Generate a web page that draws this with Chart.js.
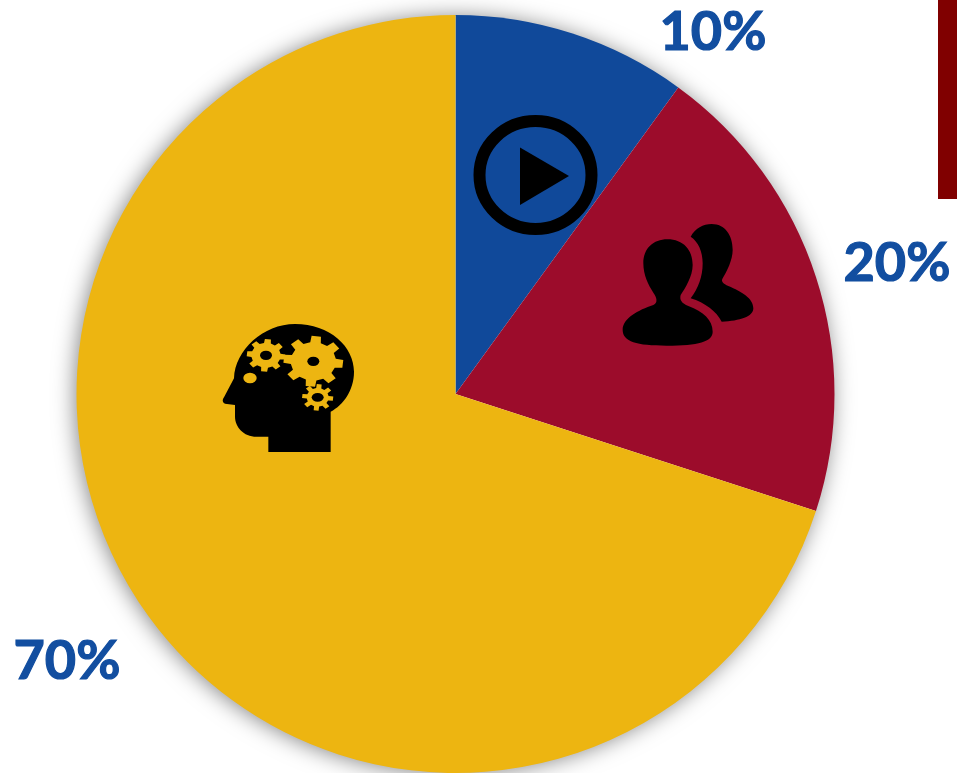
<!DOCTYPE html>
<html>
<head>
<meta charset="utf-8">
<title>pie</title>
<script src="https://cdn.jsdelivr.net/npm/chart.js@4/dist/chart.umd.js"></script>
<style>
html, body { margin: 0; padding: 0; background: #fff; overflow: hidden; }
#box { position: relative; width: 957px; height: 773px; }
</style>
</head>
<body>
<div id="box"><canvas id="myChart" width="957" height="773"></canvas></div>
<script>
const categories = ['Watching', 'Together', 'Thinking'];
const shares = [10, 20, 70];
const sliceColors = ['#10499a', '#9c0c2b', '#edb511'];
const labelSpots = [[713, 50], [897, 281], [67, 679]];
const yellow = sliceColors[2];

// shadow under the whole disc, so no slice throws it on its neighbour
const discShadow = {
	id: 'discShadow',
	beforeDatasetsDraw(chart) {
		const arc = chart.getDatasetMeta(0).data[0];
		const ctx = chart.ctx;
		ctx.save();
		ctx.shadowColor = 'rgba(0,0,0,0.5)';
		ctx.shadowBlur = 22;
		ctx.shadowOffsetX = -2;
		ctx.shadowOffsetY = 1;
		ctx.fillStyle = '#fff';
		ctx.beginPath();
		ctx.arc(arc.x, arc.y, arc.outerRadius - 1, 0, Math.PI * 2);
		ctx.fill();
		ctx.restore();
	}
};

function gear(ctx, cx, cy, outer, root, squash, holeX, holeY) {
	const teeth = 8;
	const step = Math.PI * 2 / teeth;
	ctx.fillStyle = yellow;
	ctx.beginPath();
	for (let i = 0; i < teeth; i++) {
		const a = i * step + 0.1;
		const pts = [[a - step * 0.3, root], [a - step * 0.2, outer], [a + step * 0.2, outer], [a + step * 0.3, root]];
		pts.forEach(p => ctx.lineTo(cx + Math.cos(p[0]) * p[1], cy + Math.sin(p[0]) * p[1] * squash));
	}
	ctx.closePath();
	ctx.fill();
	ctx.fillStyle = '#000';
	ctx.beginPath();
	ctx.ellipse(cx, cy, holeX, holeY, 0, 0, Math.PI * 2);
	ctx.fill();
}

function drawPlay(ctx) {
	ctx.save();
	ctx.strokeStyle = '#000';
	ctx.lineWidth = 12;
	ctx.beginPath();
	ctx.ellipse(535.5, 175, 56, 54, 0, 0, Math.PI * 2);
	ctx.stroke();
	ctx.fillStyle = '#000';
	ctx.beginPath();
	ctx.moveTo(520, 147.5);
	ctx.lineTo(569, 176);
	ctx.lineTo(520, 205);
	ctx.closePath();
	ctx.fill();
	ctx.restore();
}

function drawPeople(ctx) {
	ctx.save();
	ctx.translate(610, 210);
	ctx.scale(1 / 3, 1 / 3);
	ctx.fillStyle = '#000';
	ctx.fill(new Path2D('M172 88C220 88 248 120 248 165C248 200 225 235 212 255C208 270 215 280 235 288C280 305 308 330 308 365C308 395 265 407 170 407C80 407 38 395 38 360C38 325 85 300 130 285C145 278 140 262 130 248C115 225 100 195 100 160C100 115 130 88 172 88Z'));
	ctx.fill(new Path2D('M242 80C255 55 280 42 305 42C345 42 368 75 368 120C368 150 350 185 338 205C332 215 340 222 355 228C395 245 430 265 430 295C430 320 390 333 335 335C320 305 285 278 242 265C265 235 278 200 278 160C278 125 265 95 242 80Z'));
	ctx.restore();
}

function drawHead(ctx) {
	ctx.save();
	ctx.translate(200, 310);
	ctx.scale(1 / 3, 1 / 3);
	ctx.fillStyle = '#000';
	ctx.fill(new Path2D('M392 426L205 426L205 380L170 380C130 380 105 350 105 320L105 285L75 281C65 276 68 268 72 262L102 205C105 120 190 42 285 42C390 42 462 110 462 185C462 240 430 285 392 305Z'));
	gear(ctx, 340, 154, 90, 68, 0.85, 18, 14);
	gear(ctx, 198, 136, 58, 44, 0.85, 18, 14);
	gear(ctx, 353, 262, 47, 33, 0.85, 18, 13);
	ctx.fillStyle = yellow;
	ctx.beginPath();
	ctx.ellipse(150, 204, 20, 16, 0, 0, Math.PI * 2);
	ctx.fill();
	ctx.restore();
}

const extras = {
	id: 'extras',
	afterDatasetsDraw(chart) {
		const ctx = chart.ctx;
		drawPlay(ctx);
		drawPeople(ctx);
		drawHead(ctx);
		// dark bar cut off by the right edge
		ctx.fillStyle = '#800000';
		ctx.fillRect(938, 0, 19, 199);
		ctx.save();
		ctx.font = 'bold 54px Lato';
		ctx.fillStyle = '#124ea0';
		ctx.strokeStyle = '#124ea0';
		ctx.lineWidth = 1.2;
		ctx.textAlign = 'center';
		ctx.textBaseline = 'alphabetic';
		shares.forEach((v, i) => {
			ctx.fillText(v + '%', labelSpots[i][0], labelSpots[i][1]);
			ctx.strokeText(v + '%', labelSpots[i][0], labelSpots[i][1]);
		});
		ctx.restore();
	}
};

new Chart(document.getElementById('myChart'), {
	type: 'pie',
	data: {
		labels: categories,
		datasets: [{
			data: shares,
			backgroundColor: sliceColors,
			borderWidth: 0,
			hoverOffset: 0
		}]
	},
	options: {
		responsive: false,
		animation: false,
		layout: { padding: { left: 0, right: 46, top: 15, bottom: 0 } },
		plugins: {
			legend: { display: false },
			tooltip: { enabled: false }
		}
	},
	plugins: [discShadow, extras]
});
</script>
</body>
</html>
